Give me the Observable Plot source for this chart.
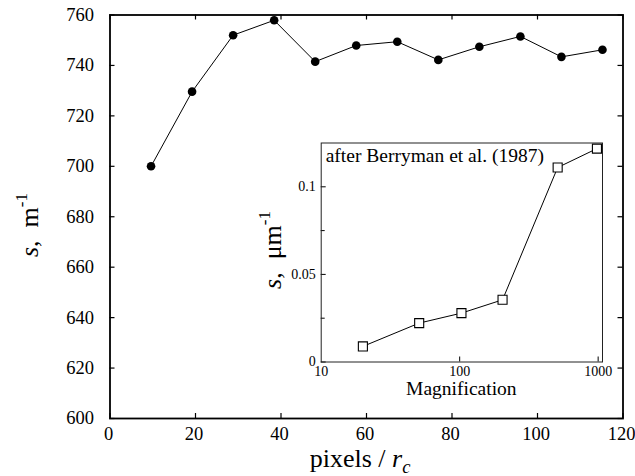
<!DOCTYPE html>
<html>
<head>
<meta charset="utf-8">
<script src="https://cdn.jsdelivr.net/npm/d3@7"></script>
<script src="https://cdn.jsdelivr.net/npm/@observablehq/plot@0.6"></script>
<style>
  body { margin: 0; background: #fff; }
  #chart { position: relative; width: 635px; height: 476px; }
  #chart svg { display: block; }
  #chart svg, #chart svg text, #chart svg tspan { font-family: "Liberation Serif", "Times New Roman", serif; }
</style>
</head>
<body>
<div id="chart"></div>
<script>
// ---- main series: s vs pixels / r_c ----
const pixelsPerRc = [9.6, 19.2, 28.8, 38.4, 48.0, 57.6, 67.2, 76.8, 86.4, 96.0, 105.6, 115.2];
const sMain = [700, 729.6, 752, 757.9, 741.5, 747.9, 749.4, 742.2, 747.4, 751.5, 743.4, 746.2];

// ---- inset series (after Berryman et al. 1987) ----
const magnification = [20, 51, 103, 204, 510, 980];
const sInset = [0.0089, 0.0222, 0.0279, 0.0355, 0.111, 0.1218];

// ---- tick labels ----
const xTicks = [0, 20, 40, 60, 80, 100, 120];
const yTicks = [600, 620, 640, 660, 680, 700, 720, 740, 760];
const insetXTicks = [10, 100, 1000];
const insetYTicks = [0, 0.05, 0.1];
const insetYMinor = [0.025, 0.075];
const insetNote = "after Berryman et al. (1987)";

const W = 635, H = 476;
const mT = 14.5, mR = 12.5, mB = 58, mL = 109.5;
const pw = W - mL - mR, ph = H - mT - mB;

const mainData = pixelsPerRc.map((x, i) => ({x, y: sMain[i]}));

const main = Plot.plot({
  width: W, height: H,
  marginTop: mT, marginRight: mR, marginBottom: mB, marginLeft: mL,
  x: {domain: [0, 120]},
  y: {domain: [600, 760]},
  style: "font-size: 18.5px; color: black; background: white; overflow: visible;",
  marks: [
    Plot.axisX({ticks: xTicks, tickSize: 0, tickPadding: 8, dx: -1.5, label: null, fontSize: 18.5}),
    Plot.axisY({ticks: yTicks, tickSize: 0, tickPadding: 16, label: null, fontSize: 18.5}),
    Plot.tickX(xTicks, {x: d => d, insetTop: ph - 5, stroke: "black", strokeWidth: 1.2}),
    Plot.tickX(xTicks, {x: d => d, insetBottom: ph - 5, stroke: "black", strokeWidth: 1.2}),
    Plot.tickY(yTicks, {y: d => d, insetRight: pw - 5, stroke: "black", strokeWidth: 1.2}),
    Plot.tickY(yTicks, {y: d => d, insetLeft: pw - 5, stroke: "black", strokeWidth: 1.2}),
    Plot.line(mainData, {x: "x", y: "y", stroke: "black", strokeWidth: 1}),
    Plot.dot(mainData, {x: "x", y: "y", r: 4.3, fill: "black", stroke: "none"}),
    Plot.frame({stroke: "black", strokeWidth: 1.8})
  ]
});

// main axis titles (rich text: italic / subscript / superscript)
{
  const svg = d3.select(main);
  const xt = svg.append("text")
    .attr("x", mL + pw / 2 - 6).attr("y", 466.5)
    .attr("text-anchor", "middle")
    .attr("font-size", 26).attr("fill", "black");
  xt.append("tspan").text("pixels / ");
  xt.append("tspan").attr("font-style", "italic").text("r");
  xt.append("tspan").attr("font-style", "italic").attr("font-size", 18.5).attr("dy", 6).text("c");

  const yt = svg.append("text")
    .attr("transform", "translate(38,225) rotate(-90)")
    .attr("text-anchor", "middle")
    .attr("font-size", 26).attr("fill", "black");
  yt.append("tspan").attr("font-style", "italic").text("s");
  yt.append("tspan").text(",\u00a0\u00a0m");
  yt.append("tspan").attr("font-size", 17).attr("dy", -11).text("-1");
}

// ---- inset ----
const IW = 372, IH = 272, IX = 240, IY = 130;
const imT = 12.5, imR = 10, imB = 40.5, imL = 80.7;
const ipw = IW - imL - imR, iph = IH - imT - imB;
const insetData = magnification.map((m, i) => ({m, s: sInset[i]}));

const inset = Plot.plot({
  width: IW, height: IH,
  marginTop: imT, marginRight: imR, marginBottom: imB, marginLeft: imL,
  x: {type: "log", domain: [10, 1075]},
  y: {domain: [0, 0.125]},
  style: "font-size: 14px; color: black; background: transparent; overflow: visible;",
  marks: [
    Plot.axisX({ticks: insetXTicks, tickSize: 0, tickPadding: 4.5, tickFormat: d => String(d), label: null, fontSize: 14}),
    Plot.axisY({ticks: insetYTicks, tickSize: 0, tickPadding: 5.5, tickFormat: d => String(d), label: null, fontSize: 14}),
    Plot.tickX([100, 1000], {x: d => d, insetTop: iph - 5, stroke: "black"}),
    Plot.tickY(insetYTicks, {y: d => d, insetRight: ipw - 5, stroke: "black"}),
    Plot.tickY(insetYMinor, {y: d => d, insetRight: ipw - 4, stroke: "black"}),
    Plot.line(insetData, {x: "m", y: "s", stroke: "black", strokeWidth: 1}),
    Plot.dot(insetData, {x: "m", y: "s", symbol: "square", r: 5.1, fill: "white", stroke: "black", strokeWidth: 1.1}),
    Plot.frame({stroke: "#222", strokeWidth: 1}),
    Plot.text([insetNote], {frameAnchor: "top-left", text: d => d, textAnchor: "start", lineAnchor: "top", dx: 4.5, dy: 5, fontSize: 19.5, fill: "black"})
  ]
});

{
  const svg = d3.select(inset);
  svg.append("text")
    .attr("x", imL + ipw / 2).attr("y", 265)
    .attr("text-anchor", "middle")
    .attr("font-size", 19.5).attr("fill", "black")
    .text("Magnification");
  const yt = svg.append("text")
    .attr("transform", "translate(41,120) rotate(-90)")
    .attr("text-anchor", "middle")
    .attr("font-size", 26).attr("fill", "black");
  yt.append("tspan").attr("font-style", "italic").text("s");
  yt.append("tspan").text(",\u00a0\u00a0\u03bcm");
  yt.append("tspan").attr("font-size", 17).attr("dy", -11).text("-1");
}

inset.style.position = "absolute";
inset.style.left = IX + "px";
inset.style.top = IY + "px";
inset.style.maxWidth = "none";

const chart = document.getElementById("chart");
chart.appendChild(main);
chart.appendChild(inset);
</script>
</body>
</html>
